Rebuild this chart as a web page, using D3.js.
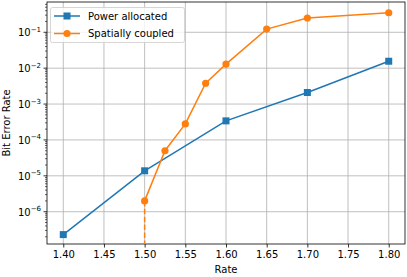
<!DOCTYPE html>
<html>
<head>
<meta charset="utf-8">
<script src="https://cdn.jsdelivr.net/npm/d3@7"></script>
<style>
  body { margin: 0; background: #fff; }
  text { font-family: "DejaVu Sans", sans-serif; fill: #000; }
</style>
</head>
<body>
<script>
// chart data
let powerRates = [1.40, 1.50, 1.60, 1.70, 1.80];
let powerBER = [2.3e-7, 1.38e-5, 3.4e-4, 2.1e-3, 1.56e-2];
let coupledRates = [1.50, 1.525, 1.55, 1.575, 1.60, 1.65, 1.70, 1.80];
let coupledBER = [2.0e-6, 5.0e-5, 2.8e-4, 3.8e-3, 1.3e-2, 0.123, 0.25, 0.35];
let xTicks = [1.40, 1.45, 1.50, 1.55, 1.60, 1.65, 1.70, 1.75, 1.80];
let yTicks = [-6, -5, -4, -3, -2, -1];
let seriesNames = ['Power allocated', 'Spatially coupled'];

let width = 407;
let height = 277;
let padLeft = 47, padRight = 405, padTop = 2, padBottom = 244;

let svg = d3.select('body').append('svg')
   .attr('width', width)
   .attr('height', height);

let x = d3.scaleLinear().domain([1.38, 1.82]).range([padLeft, padRight]);
let y = d3.scaleLog().domain([Math.pow(10, -6.9), Math.pow(10, -0.156)]).range([padBottom, padTop]);

// grid
let grid = svg.append('g');
grid.selectAll('.gx').data(xTicks).enter().append('line')
   .attr('x1', d => x(d)).attr('x2', d => x(d))
   .attr('y1', padTop).attr('y2', padBottom)
   .attr('stroke', '#b0b0b0').attr('stroke-width', 0.8);
grid.selectAll('.gy').data(yTicks).enter().append('line')
   .attr('x1', padLeft).attr('x2', padRight)
   .attr('y1', d => y(Math.pow(10, d))).attr('y2', d => y(Math.pow(10, d)))
   .attr('stroke', '#b0b0b0').attr('stroke-width', 0.8);

// x axis
let xAxis = svg.append('g')
   .attr('transform', 'translate(0,' + padBottom + ')')
   .call(d3.axisBottom(x).tickValues(xTicks).tickFormat(d3.format('.2f')).tickSize(3.5).tickPadding(3.5));
xAxis.select('.domain').remove();
xAxis.selectAll('text').style('font-size', '10px').style('font-family', 'DejaVu Sans');
xAxis.selectAll('line').attr('stroke-width', 0.8);

// y axis, major + minor ticks
let minor = [];
for (let e = -7; e <= 0; e++) {
   for (let m = 2; m <= 9; m++) {
      let v = m * Math.pow(10, e);
      if (v >= y.domain()[0] && v <= y.domain()[1]) minor.push(v);
   }
}
let yAxis = svg.append('g');
yAxis.selectAll('.minor').data(minor).enter().append('line')
   .attr('x1', padLeft - 2).attr('x2', padLeft)
   .attr('y1', d => y(d)).attr('y2', d => y(d))
   .attr('stroke', '#000').attr('stroke-width', 0.6);
yAxis.selectAll('.major').data(yTicks).enter().append('line')
   .attr('x1', padLeft - 3.5).attr('x2', padLeft)
   .attr('y1', d => y(Math.pow(10, d))).attr('y2', d => y(Math.pow(10, d)))
   .attr('stroke', '#000').attr('stroke-width', 0.8);
let ylab = yAxis.selectAll('.lab').data(yTicks).enter().append('text')
   .attr('x', padLeft - 6)
   .attr('y', d => y(Math.pow(10, d)) + 4)
   .attr('text-anchor', 'end')
   .style('font-size', '10px');
ylab.append('tspan').text('10');
ylab.append('tspan').attr('dy', -4.5).style('font-size', '7px').text(d => '\u2212' + Math.abs(d));

// frame
svg.append('rect')
   .attr('x', padLeft).attr('y', padTop)
   .attr('width', padRight - padLeft).attr('height', padBottom - padTop)
   .attr('fill', 'none').attr('stroke', '#000').attr('stroke-width', 0.8);

// axis labels
svg.append('text').attr('x', (padLeft + padRight) / 2).attr('y', 273)
   .attr('text-anchor', 'middle').style('font-size', '10px').text('Rate');
svg.append('text')
   .attr('transform', 'translate(10,' + ((padTop + padBottom) / 2) + ') rotate(-90)')
   .attr('text-anchor', 'middle').style('font-size', '10px').text('Bit Error Rate');

let line = d3.line().x(d => x(d[0])).y(d => y(d[1]));
let plot = svg.append('g');

// dashed drop for spatially coupled at threshold
plot.append('line')
   .attr('x1', x(coupledRates[0])).attr('x2', x(coupledRates[0]))
   .attr('y1', y(coupledBER[0])).attr('y2', padBottom)
   .attr('stroke', '#ff7f0e').attr('stroke-width', 1.5)
   .attr('stroke-dasharray', '5.5,2.4');

let powerPts = powerRates.map((r, i) => [r, powerBER[i]]);
let coupledPts = coupledRates.map((r, i) => [r, coupledBER[i]]);

plot.append('path').datum(powerPts).attr('d', line)
   .attr('fill', 'none').attr('stroke', '#1f77b4').attr('stroke-width', 1.5);
plot.selectAll('.sq').data(powerPts).enter().append('rect')
   .attr('x', d => x(d[0]) - 3.5).attr('y', d => y(d[1]) - 3.5)
   .attr('width', 7).attr('height', 7).attr('fill', '#1f77b4');

plot.append('path').datum(coupledPts).attr('d', line)
   .attr('fill', 'none').attr('stroke', '#ff7f0e').attr('stroke-width', 1.5);
plot.selectAll('.ci').data(coupledPts).enter().append('circle')
   .attr('cx', d => x(d[0])).attr('cy', d => y(d[1]))
   .attr('r', 3.6).attr('fill', '#ff7f0e');

// legend
let legend = svg.append('g');
legend.append('rect')
   .attr('x', 50.5).attr('y', 7.5).attr('width', 134).attr('height', 35).attr('rx', 2)
   .attr('fill', '#fff').attr('fill-opacity', 0.8).attr('stroke', '#ccc').attr('stroke-width', 0.8);
let colors = ['#1f77b4', '#ff7f0e'];
seriesNames.forEach((name, i) => {
   let ly = 16 + i * 17.5;
   legend.append('line').attr('x1', 54).attr('x2', 80).attr('y1', ly).attr('y2', ly)
      .attr('stroke', colors[i]).attr('stroke-width', 1.5);
   if (i === 0) {
      legend.append('rect').attr('x', 63.5).attr('y', ly - 3.5).attr('width', 7).attr('height', 7).attr('fill', colors[i]);
   } else {
      legend.append('circle').attr('cx', 67).attr('cy', ly).attr('r', 3.6).attr('fill', colors[i]);
   }
   legend.append('text').attr('x', 88).attr('y', ly + 3.6).style('font-size', '10px').text(name);
});
</script>
</body>
</html>
